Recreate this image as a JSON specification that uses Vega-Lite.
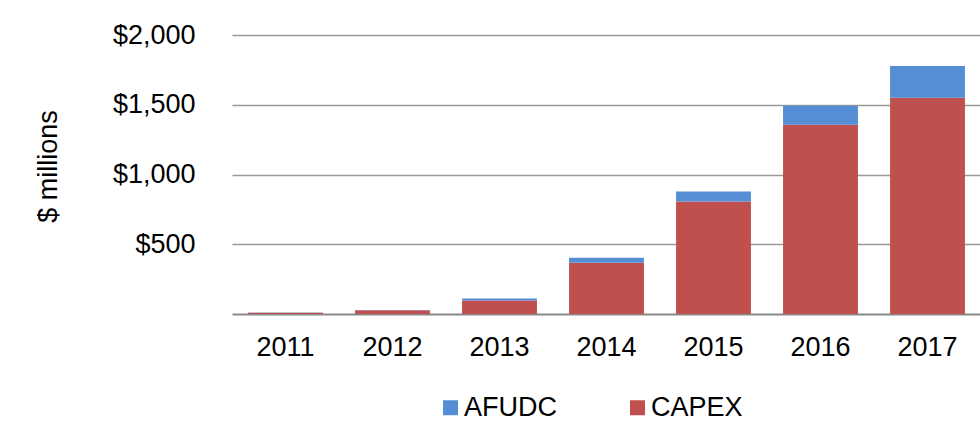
{
  "$schema": "https://vega.github.io/schema/vega-lite/v6.json",
  "autosize": "none",
  "width": 749,
  "height": 279,
  "padding": {"left": 232, "top": 35, "right": 0, "bottom": 124},
  "background": "white",
  "config": {
    "view": {"stroke": null},
    "font": "Liberation Sans"
  },
  "data": {
    "values": [
      {"year": "2011", "type": "CAPEX", "value": 9},
      {"year": "2011", "type": "AFUDC", "value": 2},
      {"year": "2012", "type": "CAPEX", "value": 26},
      {"year": "2012", "type": "AFUDC", "value": 3},
      {"year": "2013", "type": "CAPEX", "value": 97},
      {"year": "2013", "type": "AFUDC", "value": 15},
      {"year": "2014", "type": "CAPEX", "value": 368},
      {"year": "2014", "type": "AFUDC", "value": 36},
      {"year": "2015", "type": "CAPEX", "value": 806},
      {"year": "2015", "type": "AFUDC", "value": 72},
      {"year": "2016", "type": "CAPEX", "value": 1357},
      {"year": "2016", "type": "AFUDC", "value": 136},
      {"year": "2017", "type": "CAPEX", "value": 1550},
      {"year": "2017", "type": "AFUDC", "value": 228}
    ]
  },
  "mark": {"type": "bar"},
  "encoding": {
    "x": {
      "field": "year",
      "type": "nominal",
      "scale": {"paddingInner": 0.3, "paddingOuter": 0.15},
      "axis": {
        "title": null,
        "labelAngle": 0,
        "labelFontSize": 27,
        "labelColor": "#000000",
        "labelPadding": 20,
        "ticks": false,
        "domainColor": "#898989",
        "domainWidth": 2
      }
    },
    "y": {
      "field": "value",
      "type": "quantitative",
      "stack": "zero",
      "scale": {"domain": [0, 2000], "nice": false},
      "axis": {
        "title": "$ millions",
        "titleFontSize": 27,
        "titleFontWeight": "normal",
        "titleColor": "#000000",
        "titlePadding": 50,
        "titleY": 131,
        "values": [500, 1000, 1500, 2000],
        "format": "$,.0f",
        "labelFontSize": 27,
        "labelColor": "#000000",
        "labelPadding": 37,
        "ticks": false,
        "domain": false,
        "gridColor": "#999999",
        "gridWidth": 1.5
      }
    },
    "color": {
      "field": "type",
      "type": "nominal",
      "scale": {"domain": ["AFUDC", "CAPEX"], "range": ["#558ED5", "#C0504D"]},
      "legend": {
        "title": null,
        "orient": "none",
        "legendX": 205,
        "legendY": 359,
        "direction": "horizontal",
        "symbolType": "square",
        "symbolSize": 225,
        "symbolStrokeWidth": 0,
        "labelFontSize": 27,
        "labelColor": "#000000",
        "labelOffset": 0,
        "columnPadding": 67
      }
    },
    "order": {"field": "type", "sort": "descending"}
  }
}
